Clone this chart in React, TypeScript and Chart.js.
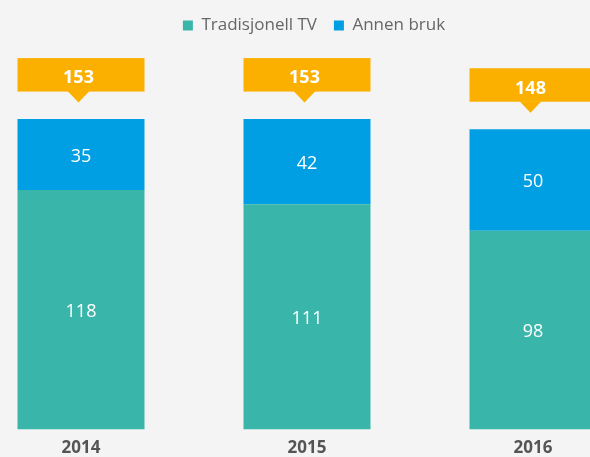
import { useEffect, useRef } from 'react';
import { Chart, registerables } from 'chart.js';

Chart.register(...registerables);

const categories = ['2014', '2015', '2016'];
const tradisjonellTV = [118, 111, 98];
const annenBruk = [35, 42, 50];
const seriesLabels = ['Tradisjonell TV', 'Annen bruk'];

const TEAL = '#3ab5a9';
const BLUE = '#009fe3';
const ORANGE = '#fbb000';
const FONT = "'Open Sans', sans-serif";

const valueLabels = {
  id: 'valueLabels',
  afterDatasetsDraw(chart: any) {
    const ctx = chart.ctx;
    ctx.save();
    ctx.font = `400 18px ${FONT}`;
    ctx.fillStyle = '#ffffff';
    ctx.textAlign = 'center';
    ctx.textBaseline = 'middle';
    chart.data.datasets.forEach((ds: any, di: number) => {
      const meta = chart.getDatasetMeta(di);
      meta.data.forEach((el: any, i: number) => {
        const { x, y, base } = el.getProps(['x', 'y', 'base'], true);
        ctx.fillText(String(ds.data[i]), x, (y + base) / 2 + 2);
      });
    });
    ctx.restore();
  },
};

const totalCallouts = {
  id: 'totalCallouts',
  afterDatasetsDraw(chart: any) {
    const ctx = chart.ctx;
    const yScale = chart.scales.y;
    const meta = chart.getDatasetMeta(chart.data.datasets.length - 1);
    ctx.save();
    meta.data.forEach((el: any, i: number) => {
      const total = chart.data.datasets.reduce((s: number, ds: any) => s + ds.data[i], 0);
      const { x, width } = el.getProps(['x', 'width'], true);
      const top = yScale.getPixelForValue(total);
      const left = x - width / 2;
      const boxTop = top - 61;
      const boxBottom = top - 27.5;
      const cx = x - 2.5;
      ctx.fillStyle = ORANGE;
      ctx.fillRect(left, boxTop, width, boxBottom - boxTop);
      ctx.beginPath();
      ctx.moveTo(cx - 11, boxBottom - 0.5);
      ctx.lineTo(cx + 11, boxBottom - 0.5);
      ctx.lineTo(cx, boxBottom + 11);
      ctx.closePath();
      ctx.fill();
      ctx.fillStyle = '#ffffff';
      ctx.font = `700 18px ${FONT}`;
      ctx.textAlign = 'center';
      ctx.textBaseline = 'middle';
      ctx.fillText(String(total), cx, (boxTop + boxBottom) / 2 + 3.5);
    });
    ctx.restore();
  },
};

export default function App() {
  const canvasRef = useRef<HTMLCanvasElement | null>(null);

  useEffect(() => {
    if (!canvasRef.current) return;
    const chart = new Chart(canvasRef.current, {
      type: 'bar',
      data: {
        labels: categories,
        datasets: [
          {
            label: seriesLabels[0],
            data: tradisjonellTV,
            backgroundColor: TEAL,
            borderWidth: 0,
          },
          {
            label: seriesLabels[1],
            data: annenBruk,
            backgroundColor: BLUE,
            borderWidth: 0,
          },
        ],
      },
      options: {
        animation: false,
        responsive: true,
        maintainAspectRatio: false,
        layout: { padding: { top: 0, left: 0, right: 0, bottom: 0 } },
        datasets: {
          bar: { categoryPercentage: 1, barPercentage: 0.562 },
        },
        plugins: {
          legend: {
            display: true,
            position: 'top',
            labels: {
              boxWidth: 10,
              boxHeight: 10,
              padding: 17,
              color: '#666666',
              font: { family: FONT, size: 17 },
            },
          },
          tooltip: { enabled: false },
        },
        scales: {
          x: {
            stacked: true,
            offset: true,
            grid: { display: false, drawTicks: false },
            border: { display: false },
            ticks: {
              padding: 8,
              color: '#555555',
              font: { family: FONT, size: 17, weight: 'bold' },
            },
          },
          y: {
            stacked: true,
            position: 'right',
            min: 0,
            max: 190,
            grid: { display: false, drawTicks: false },
            border: { display: false },
            ticks: { display: false },
            afterFit: (scale: any) => {
              scale.width = 14;
            },
          },
        },
      },
      plugins: [valueLabels, totalCallouts],
    });
    return () => chart.destroy();
  }, []);

  return (
    <div
      style={{
        position: 'fixed',
        left: 0,
        top: 0,
        width: 590,
        height: 457,
        overflow: 'hidden',
        background: '#f4f4f4',
      }}
    >
      <div style={{ position: 'absolute', left: -32, top: 0, width: 692, height: 466 }}>
        <canvas ref={canvasRef} />
      </div>
    </div>
  );
}
